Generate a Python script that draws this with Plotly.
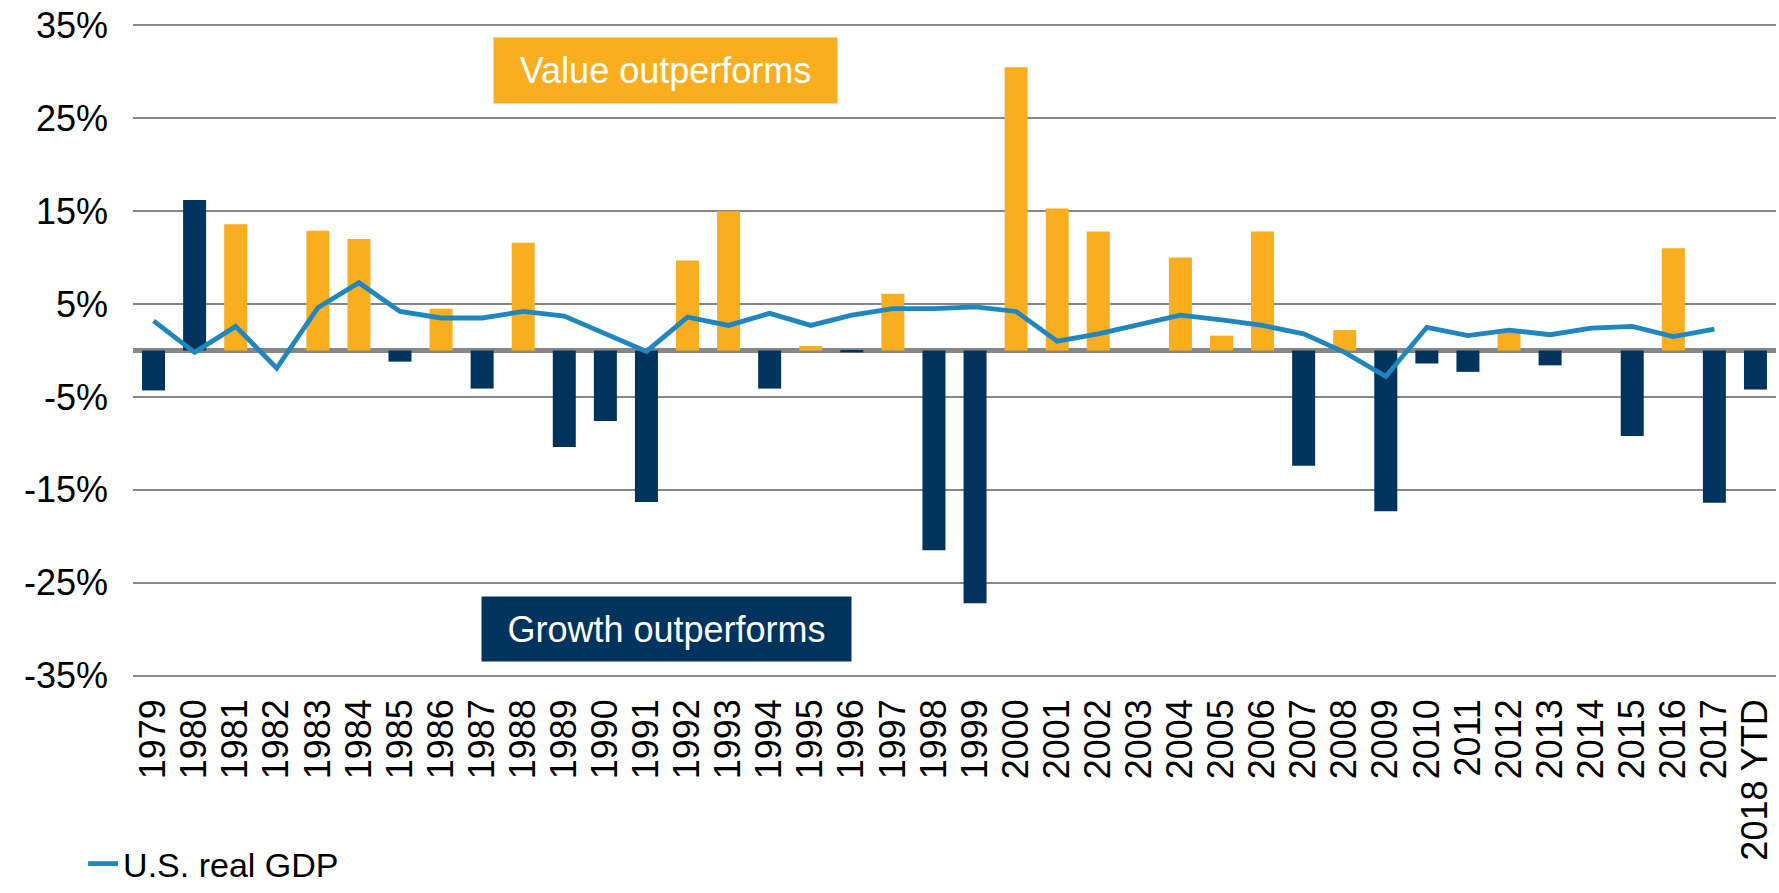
import plotly.graph_objects as go

years = ["1979", "1980", "1981", "1982", "1983", "1984", "1985", "1986", "1987", "1988",
         "1989", "1990", "1991", "1992", "1993", "1994", "1995", "1996", "1997", "1998",
         "1999", "2000", "2001", "2002", "2003", "2004", "2005", "2006", "2007", "2008",
         "2009", "2010", "2011", "2012", "2013", "2014", "2015", "2016", "2017", "2018 YTD"]

# Value minus growth relative performance (%)
value_vs_growth = [-4.3, 16.2, 13.6, 0.0, 12.9, 12.0, -1.2, 4.5, -4.1, 11.6,
                   -10.4, -7.6, -16.3, 9.7, 15.0, -4.1, 0.5, -0.2, 6.1, -21.5,
                   -27.2, 30.5, 15.3, 12.8, 0.0, 10.0, 1.6, 12.8, -12.4, 2.2,
                   -17.3, -1.4, -2.3, 2.1, -1.6, 0.0, -9.2, 11.0, -16.4, -4.2]

# Which style outperformed each year
winner = ["Growth", "Growth", "Value", "Value", "Value", "Value", "Growth", "Value", "Growth", "Value",
          "Growth", "Growth", "Growth", "Value", "Value", "Growth", "Value", "Growth", "Value", "Growth",
          "Growth", "Value", "Value", "Value", "Value", "Value", "Value", "Value", "Growth", "Value",
          "Growth", "Growth", "Growth", "Value", "Growth", "Value", "Growth", "Value", "Growth", "Growth"]

# U.S. real GDP growth (%)
us_real_gdp = [3.2, -0.2, 2.6, -1.9, 4.6, 7.3, 4.2, 3.5, 3.5, 4.2,
               3.7, 1.8, -0.1, 3.6, 2.7, 4.0, 2.7, 3.8, 4.5, 4.5,
               4.7, 4.2, 1.0, 1.8, 2.8, 3.8, 3.3, 2.7, 1.8, -0.2,
               -2.8, 2.5, 1.6, 2.2, 1.7, 2.4, 2.6, 1.5, 2.3, None]

y_ticks = [-35, -25, -15, -5, 5, 15, 25, 35]
y_tick_text = ["-35%", "-25%", "-15%", "-5%", "5%", "15%", "25%", "35%"]

ORANGE = "#F9AE1F"
NAVY = "#00345F"
BLUE = "#1F86BF"
GRID = "#878787"
FONT = "Arial, Liberation Sans, sans-serif"

bar_colors = [ORANGE if w == "Value" else NAVY for w in winner]

fig = go.Figure()
fig.add_trace(go.Bar(
    x=years, y=value_vs_growth, marker=dict(color=bar_colors, line=dict(width=0)),
    showlegend=False, name="Value vs. growth",
))
fig.add_trace(go.Scatter(
    x=years, y=us_real_gdp, mode="lines", name="U.S. real GDP",
    line=dict(color=BLUE, width=4.8), connectgaps=False,
))

fig.update_layout(
    width=1779, height=893,
    margin=dict(l=133, r=3, t=24, b=216),
    paper_bgcolor="white", plot_bgcolor="white",
    bargap=0.44,
    font=dict(family=FONT, size=36, color="black"),
    showlegend=True,
    legend=dict(orientation="h", xref="container", yref="container",
                x=0.0467, y=0.0, xanchor="left", yanchor="bottom",
                font=dict(size=34, color="black"), bgcolor="rgba(0,0,0,0)",
                borderwidth=0),
    annotations=[
        dict(text="Value outperforms", xref="paper", yref="y", x=0.3244, y=30.1,
             showarrow=False, bgcolor=ORANGE, font=dict(color="white", size=36),
             width=343, height=65, borderpad=0, xanchor="center", yanchor="middle"),
        dict(text="Growth outperforms", xref="paper", yref="y", x=0.3247, y=-30.0,
             showarrow=False, bgcolor=NAVY, font=dict(color="white", size=36),
             width=369, height=64, borderpad=0, xanchor="center", yanchor="middle"),
    ],
)

fig.update_xaxes(
    type="category", tickmode="array", tickvals=years, ticktext=years,
    tickangle=-90, showgrid=False, showline=False, automargin=False,
    ticks="", ticklabelstandoff=14, tickfont=dict(size=36),
)
fig.update_yaxes(
    range=[-35.15, 35.15], tickvals=y_ticks, ticktext=y_tick_text,
    showgrid=True, gridcolor=GRID, gridwidth=2, automargin=False,
    zeroline=True, zerolinecolor=GRID, zerolinewidth=5,
    showline=False, ticks="", ticklabelstandoff=24, tickfont=dict(size=36),
    ticklabeloverflow="allow",
)

fig.write_html("out.html", config={"displayModeBar": False},
               post_script="document.body.style.margin='0';document.body.style.overflow='hidden';")
